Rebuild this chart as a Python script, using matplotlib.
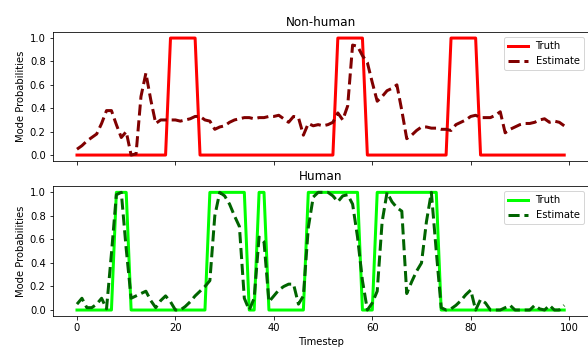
import numpy as np
import matplotlib
matplotlib.use('Agg')
import matplotlib.pyplot as plt

# timesteps 0..99
timesteps = np.arange(100)

nonhuman_truth = (
    [0] * 19 + [1] * 6 + [0] * 28 + [1] * 6 + [0] * 17 + [1] * 6 + [0] * 18
)
nonhuman_est = [
    0.05, 0.08, 0.12, 0.15, 0.18, 0.27, 0.38, 0.38, 0.26, 0.15,
    0.20, 0.00, 0.01, 0.50, 0.70, 0.47, 0.27, 0.30, 0.30, 0.30,
    0.30, 0.29, 0.30, 0.31, 0.33, 0.33, 0.30, 0.29, 0.22, 0.24,
    0.25, 0.28, 0.30, 0.31, 0.32, 0.32, 0.31, 0.32, 0.32, 0.33,
    0.33, 0.34, 0.31, 0.28, 0.33, 0.32, 0.17, 0.27, 0.25, 0.26,
    0.25, 0.26, 0.28, 0.36, 0.30, 0.42, 0.94, 0.93, 0.85, 0.79,
    0.62, 0.46, 0.50, 0.55, 0.57, 0.60, 0.38, 0.14, 0.17, 0.21,
    0.24, 0.24, 0.23, 0.23, 0.22, 0.22, 0.21, 0.26, 0.28, 0.30,
    0.33, 0.34, 0.32, 0.32, 0.32, 0.34, 0.37, 0.19, 0.22, 0.24,
    0.26, 0.27, 0.27, 0.28, 0.30, 0.31, 0.28, 0.29, 0.28, 0.25,
]

human_truth = (
    [0] * 8 + [1] * 3 + [0] * 16 + [1] * 8 + [0] * 2 + [1] * 2 + [0] * 8
    + [1] * 11 + [0] * 3 + [1] * 13 + [0] * 26
)
human_est = [
    0.05, 0.10, 0.02, 0.02, 0.05, 0.10, 0.01, 0.48, 0.98, 1.00,
    0.52, 0.10, 0.12, 0.14, 0.16, 0.08, 0.02, 0.08, 0.12, 0.07,
    0.00, 0.00, 0.03, 0.07, 0.12, 0.16, 0.20, 0.25, 0.80, 1.00,
    0.97, 0.90, 0.80, 0.71, 0.10, 0.00, 0.10, 0.62, 0.58, 0.07,
    0.12, 0.17, 0.20, 0.22, 0.22, 0.05, 0.12, 0.70, 0.96, 1.00,
    1.00, 1.00, 0.97, 0.92, 0.97, 0.98, 0.90, 0.62, 0.25, 0.00,
    0.06, 0.16, 0.75, 1.00, 0.92, 0.87, 0.84, 0.14, 0.24, 0.33,
    0.40, 0.75, 1.00, 0.50, 0.02, 0.00, 0.01, 0.04, 0.08, 0.13,
    0.17, 0.00, 0.09, 0.06, 0.00, 0.00, 0.00, 0.02, 0.04, 0.00,
    0.00, 0.00, 0.00, 0.04, 0.01, 0.00, 0.04, 0.00, 0.00, 0.04,
]

fig = plt.figure(figsize=(588 / 72, 347 / 72), dpi=72)
ax1 = fig.add_axes([0.0895, 0.5363, 0.9115, 0.3709])
ax2 = fig.add_axes([0.0895, 0.0896, 0.9115, 0.3730], sharex=ax1)

# Non-human
ax1.plot(timesteps, nonhuman_truth, color='red', linewidth=3, label='Truth')
ax1.plot(timesteps, nonhuman_est, color='maroon', linewidth=3, linestyle='--', label='Estimate')
ax1.set_title('Non-human')
ax1.set_ylabel('Mode Probabilities')
ax1.legend(loc='upper right')
plt.setp(ax1.get_xticklabels(), visible=False)

# Human
ax2.plot(timesteps, human_truth, color='lime', linewidth=3, label='Truth')
ax2.plot(timesteps, human_est, color='darkgreen', linewidth=3, linestyle='--', label='Estimate')
ax2.set_title('Human')
ax2.set_ylabel('Mode Probabilities')
ax2.set_xlabel('Timestep')
ax2.legend(loc='upper right')

for ax in (ax1, ax2):
    ax.set_ylim(-0.05, 1.05)
    ax.set_yticks([0.0, 0.2, 0.4, 0.6, 0.8, 1.0])
ax2.set_xlim(-4.95, 103.95)
ax2.set_xticks([0, 20, 40, 60, 80, 100])

fig.savefig('out.png', dpi=72)
